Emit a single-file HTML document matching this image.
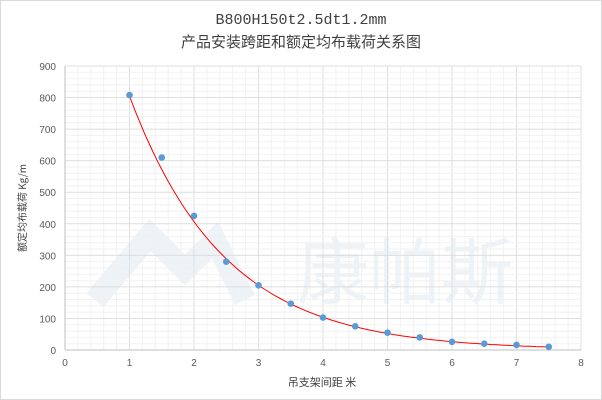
<!DOCTYPE html>
<html><head><meta charset="utf-8"><style>
html,body{margin:0;padding:0;background:#fff;}
svg{display:block;font-family:"Liberation Sans","Noto Sans CJK SC",sans-serif;}
</style></head><body>
<svg id="c" width="602" height="400" viewBox="0 0 602 400" xmlns="http://www.w3.org/2000/svg">
<rect x="0.5" y="0.5" width="601" height="399" fill="#fff" stroke="#d9d9d9"/>
<text x="301" y="24" text-anchor="middle" font-size="15" fill="#404040" font-family="Liberation Mono,'Noto Sans CJK SC',monospace">B800H150t2.5dt1.2mm</text>
<text x="301" y="47" text-anchor="middle" font-size="15" fill="#404040" font-family="'Noto Sans CJK SC',sans-serif">产品安装跨距和额定均布载荷关系图</text>
<path d="M95,300 L150,235 L185,270 L215,240 L245,300" fill="none" stroke="#eef3f8" stroke-width="22"/>
<text x="405" y="298" text-anchor="middle" font-size="72" fill="#eef3f8" font-family="'Noto Sans CJK SC',sans-serif">康帕斯</text>
<g id="grid"></g>
<g id="labels" font-size="10" fill="#595959"></g>
<text x="322" y="386" text-anchor="middle" font-size="11" fill="#404040" font-family="'Noto Sans CJK SC',sans-serif">吊支架间距 米</text>
<text transform="translate(26,208) rotate(-90)" text-anchor="middle" font-size="10" fill="#404040" font-family="'Noto Sans CJK SC',sans-serif">额定均布载荷 Kg/m</text>
<path id="curve" fill="none" stroke="#ff0000" stroke-width="1"/>
<g id="pts" fill="#5b9bd5"></g>
</svg>
<script>
var L=65,R=581,T=66,B=350;
function X(v){return L+(R-L)*v/8}function Y(v){return B-(B-T)*v/900}
var g='';
for(var i=0;i<=40;i++){var x=X(i*0.2);g+='<line x1="'+x+'" y1="'+T+'" x2="'+x+'" y2="'+B+'" stroke="'+(i%5?'#f0f0f0':'#d9d9d9')+'" stroke-opacity="0.85"/>';}
for(var j=0;j<=45;j++){var y=Y(j*20);g+='<line x1="'+L+'" y1="'+y+'" x2="'+R+'" y2="'+y+'" stroke="'+(j%5?'#f0f0f0':'#d9d9d9')+'" stroke-opacity="0.85"/>';}
g+='<line x1="'+L+'" y1="'+B+'" x2="'+R+'" y2="'+B+'" stroke="#bfbfbf"/><line x1="'+L+'" y1="'+T+'" x2="'+L+'" y2="'+B+'" stroke="#bfbfbf"/>';
document.getElementById('grid').innerHTML=g;
var lb='';
for(var i=0;i<=8;i++)lb+='<text x="'+X(i)+'" y="366" text-anchor="middle">'+i+'</text>';
for(var j=0;j<=9;j++)lb+='<text x="56" y="'+(Y(j*100)+4)+'" text-anchor="end">'+(j*100)+'</text>';
document.getElementById('labels').innerHTML=lb;
var d='';for(var x=1;x<=7.501;x+=0.05){var v=805*Math.exp(-0.683*(x-1));d+=(d?'L':'M')+X(x).toFixed(1)+','+Y(v).toFixed(1);}
document.getElementById('curve').setAttribute('d',d);
var data=[[1,808],[1.5,610],[2,425],[2.5,280],[3,205],[3.5,147],[4,103],[4.5,75],[5,55],[5.5,40],[6,26],[6.5,20],[7,16],[7.5,10]];
var p='';data.forEach(function(q){p+='<circle cx="'+X(q[0])+'" cy="'+Y(q[1])+'" r="3.3"/>';});
document.getElementById('pts').innerHTML=p;
</script>
</body></html>
